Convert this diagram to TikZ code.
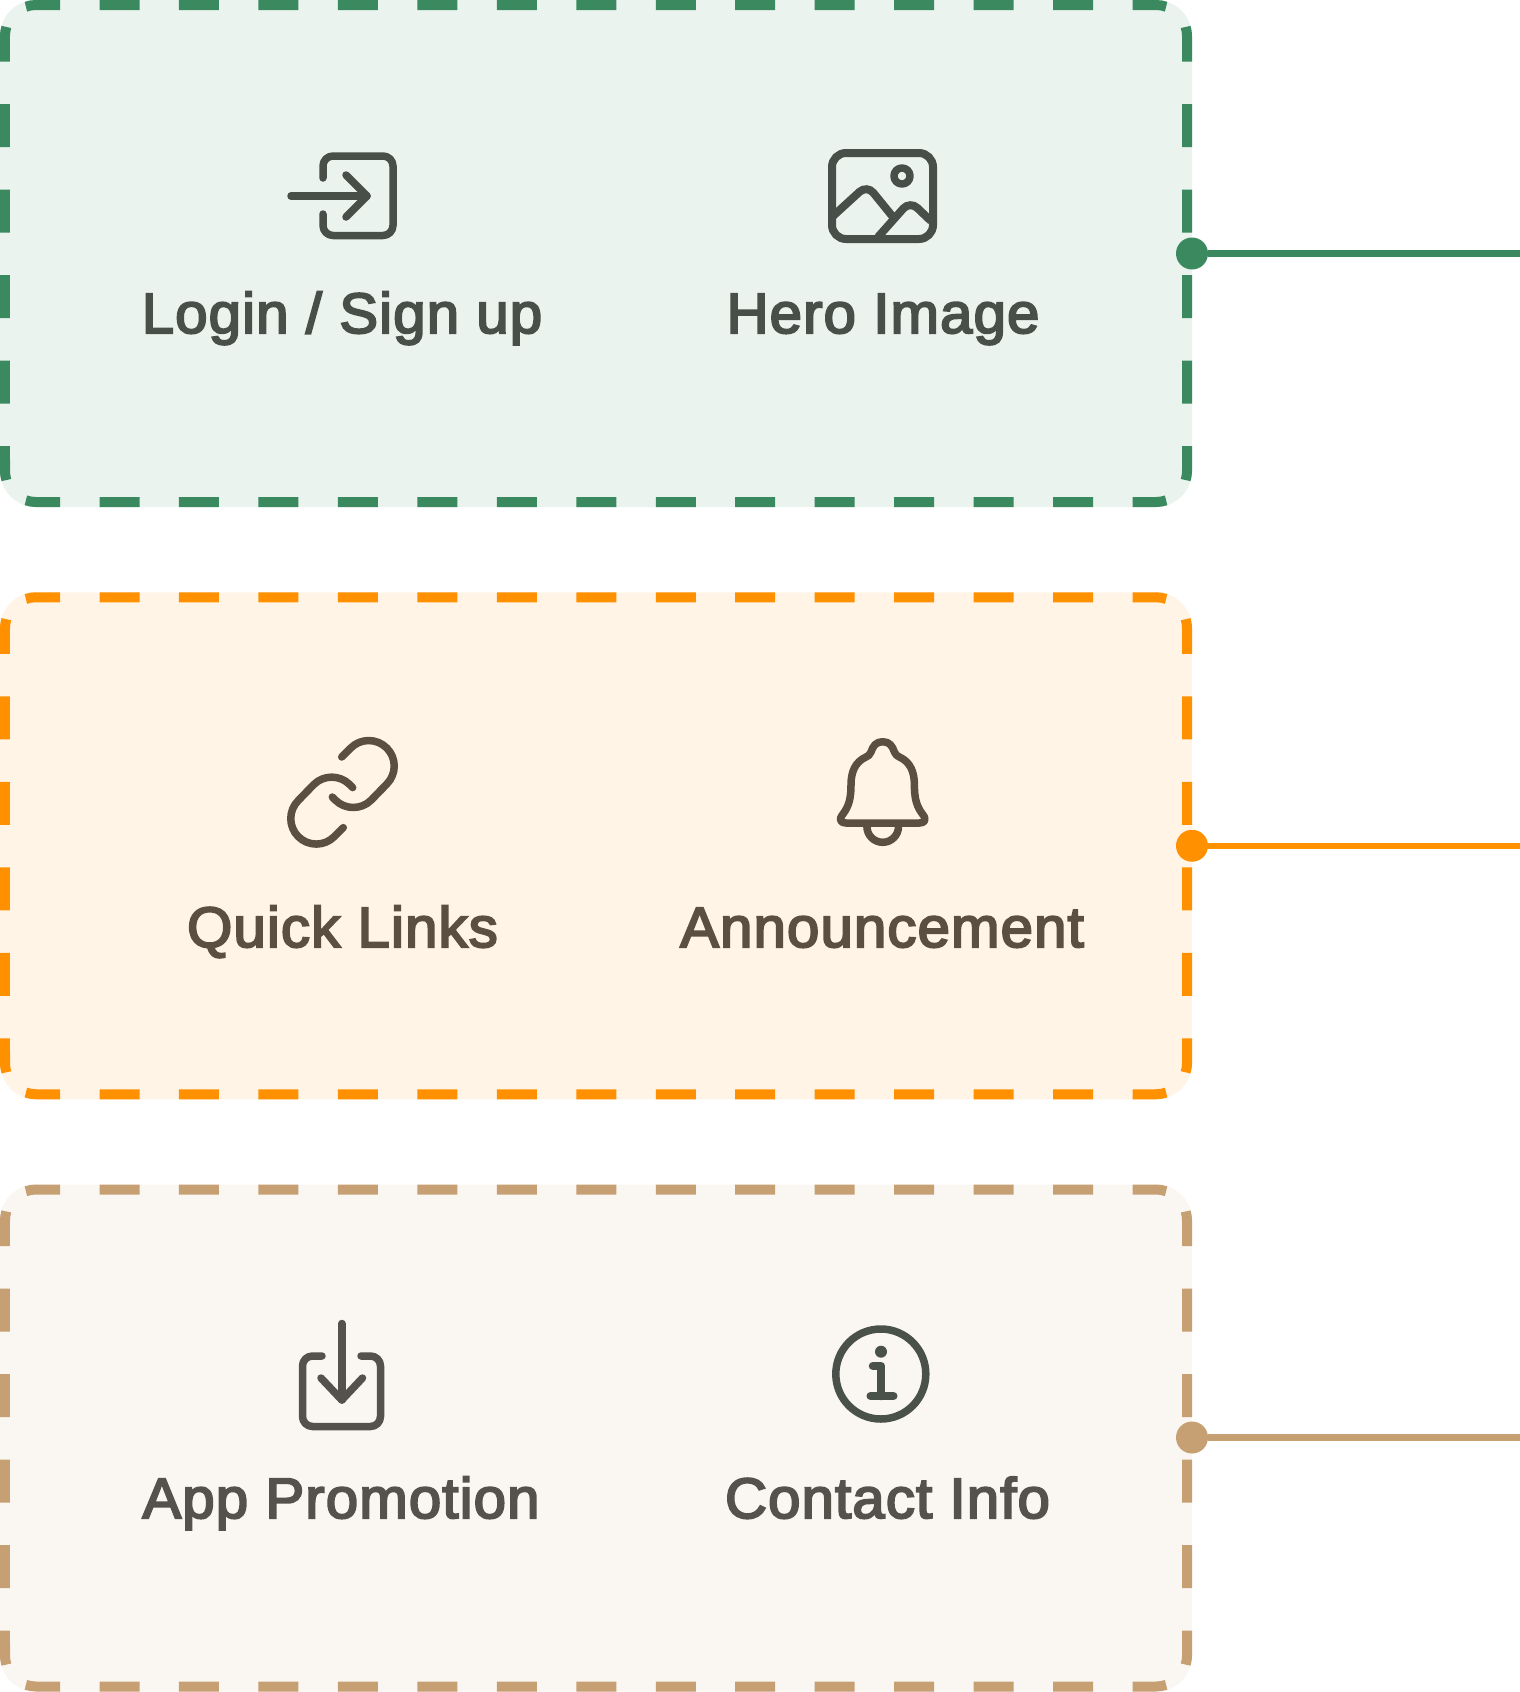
\documentclass[tikz,border=0pt]{standalone}
\usepackage{fontspec}
\setmainfont{Liberation Sans}[FakeBold=3.5, FakeStretch=1.02, LetterSpace=2]
\definecolor{leaf}{HTML}{3B8A5F}
\definecolor{leafbg}{HTML}{EAF3EE}
\definecolor{leafink}{HTML}{484F49}
\definecolor{amber}{HTML}{FF9100}
\definecolor{amberbg}{HTML}{FFF4E6}
\definecolor{amberink}{HTML}{5A4F40}
\definecolor{sand}{HTML}{C69F73}
\definecolor{sandbg}{HTML}{FAF7F2}
\definecolor{sandink}{HTML}{54524B}
\definecolor{infoink}{HTML}{4A504A}
\tikzset{
	hdash/.style={line width=10pt, dash pattern=on 40pt off 39.46pt, dash phase=5.66pt},
	vdash/.style={line width=10pt, dash pattern=on 43pt off 42.5pt, dash phase=8.3pt},
	label/.style={anchor=base, inner sep=0pt, font=\fontsize{57pt}{57pt}\selectfont},
	dot/.style={circle, inner sep=0pt, minimum size=32pt},
	wire/.style={line width=6.5pt},
	icon/.style={line width=7.5pt, line cap=round, line join=round}
}
% one dashed panel: top edge, stroke colour, fill colour
\newcommand{\dashframe}[3]{
	\begin{scope}[shift={(0,#1)}]
		\fill[#3, rounded corners=36pt] (0, 0) rectangle (1192, 507);
		\draw[#2, hdash] (25.9, 6.69) arc[start angle=251, end angle=270, radius=31] -- (1156, 5) arc[start angle=270, end angle=289, radius=31];
		\draw[#2, hdash] (25.9, 500.31) arc[start angle=109, end angle=90, radius=31] -- (1156, 502) arc[start angle=90, end angle=71, radius=31];
		\draw[#2, vdash] (6.35, 26.94) arc[start angle=197, end angle=180, radius=31] -- (5, 471) arc[start angle=180, end angle=163, radius=31];
		\draw[#2, vdash] (1185.65, 26.94) arc[start angle=-17, end angle=0, radius=31] -- (1187, 471) arc[start angle=0, end angle=17, radius=31];
	\end{scope}
}

\begin{document}
\begin{tikzpicture}[x=1pt, y=1pt, yscale=-1]
	\useasboundingbox (0, 0) rectangle (1520, 1692);
	% Panels:
	\dashframe{0}{leaf}{leafbg}
	\dashframe{592.25}{amber}{amberbg}
	\dashframe{1184.5}{sand}{sandbg}

	% Side connectors:
	\node[dot, fill=leaf] (dotTop) at (1192, 253.5) {};
	\node[dot, fill=amber] (dotMid) at (1192, 845.75) {};
	\node[dot, fill=sand] (dotLow) at (1192, 1437.5) {};
	\coordinate (endTop) at (1520, 253.5);
	\coordinate (endMid) at (1520, 845.75);
	\coordinate (endLow) at (1520, 1437.5);
	\draw[wire, leaf] (dotTop) -- (endTop);
	\draw[wire, amber] (dotMid) -- (endMid);
	\draw[wire, sand] (dotLow) -- (endLow);

	% Labels:
	\node[label, leafink] (login) at (342, 333) {Login / Sign up};
	\node[label, leafink] (hero) at (883, 333) {Hero Image};
	\node[label, amberink] (links) at (342.5, 947) {Quick Links};
	\node[label, amberink] (notice) at (882, 947) {Announcement};
	\node[label, sandink] (promo) at (341, 1518) {App Promotion};
	\node[label, sandink] (contact) at (887.5, 1518) {Contact Info};

	% Login icon:
	\draw[icon, leafink] (323, 178) -- (323, 166) arc[start angle=180, end angle=270, radius=10] -- (383, 156) arc[start angle=270, end angle=360, radius=10] -- (393, 225.5) arc[start angle=0, end angle=90, radius=10] -- (333, 235.5) arc[start angle=90, end angle=180, radius=10] -- (323, 214);
	\draw[icon, leafink] (291, 196) -- (367, 196);
	\draw[icon, leafink] (346, 175) -- (367, 196) -- (346, 217);

	% Hero image icon:
	\draw[icon, leafink, line width=8pt, rounded corners=14pt] (832, 153) rectangle (933, 239);
	\draw[icon, leafink] (902, 176) circle (8);
	\draw[leafink, line width=8pt, rounded corners=10pt] (832, 217) -- (867, 185) -- (893, 217);
	\draw[leafink, line width=8pt, rounded corners=10pt] (878, 237) -- (910, 201) -- (931, 221);

	% Link icon:
	\draw[icon, amberink] (341.7, 757) -- (350.7, 748) arc[start angle=225, end angle=405, radius=25.5] -- (371.3, 800) arc[start angle=45, end angle=135, radius=25.5] -- (332.3, 797);
	\draw[icon, amberink] (343.3, 827.6) -- (334.3, 836.6) arc[start angle=45, end angle=225, radius=25.5] -- (313.7, 784.6) arc[start angle=225, end angle=315, radius=25.5] -- (352.7, 787.6);

	% Bell icon:
	\draw[icon, amberink] (882.7, 741.7) .. controls (876, 741.7) and (873, 746) .. (871, 752)
		.. controls (870, 755) and (868, 756) .. (866, 757)
		.. controls (855, 762) and (851, 772) .. (851, 785)
		.. controls (851, 798) and (849, 806) .. (843, 814)
		.. controls (838, 820) and (841, 823) .. (846, 823)
		-- (919.4, 823)
		.. controls (924.4, 823) and (927.4, 820) .. (922.4, 814)
		.. controls (916.4, 806) and (914.4, 798) .. (914.4, 785)
		.. controls (914.4, 772) and (910.4, 762) .. (899.4, 757)
		.. controls (897.4, 756) and (895.4, 755) .. (894.4, 752)
		.. controls (892.4, 746) and (889.4, 741.7) .. cycle;
	\draw[icon, amberink] (866.9, 826.5) arc[start angle=180, end angle=0, radius=15.8];

	% Download icon:
	\draw[icon, sandink] (322, 1356) -- (312.5, 1356) arc[start angle=270, end angle=180, radius=10] -- (302.5, 1416.5) arc[start angle=180, end angle=90, radius=10] -- (370.5, 1426.5) arc[start angle=90, end angle=0, radius=10] -- (380.5, 1366) arc[start angle=0, end angle=-90, radius=10] -- (361, 1356);
	\draw[icon, sandink] (341.8, 1323.5) -- (341.8, 1400);
	\draw[icon, sandink] (321, 1378) -- (341.8, 1400) -- (362.5, 1378);

	% Info icon:
	\draw[icon, infoink] (880.8, 1374) circle (45);
	\fill[infoink] (881, 1351.7) circle (6);
	\draw[icon, infoink, line width=8.5pt] (873, 1366) -- (881, 1366) -- (881, 1396);
	\draw[icon, infoink, line width=8pt] (870.5, 1396) -- (893.5, 1396);
\end{tikzpicture}
\end{document}
